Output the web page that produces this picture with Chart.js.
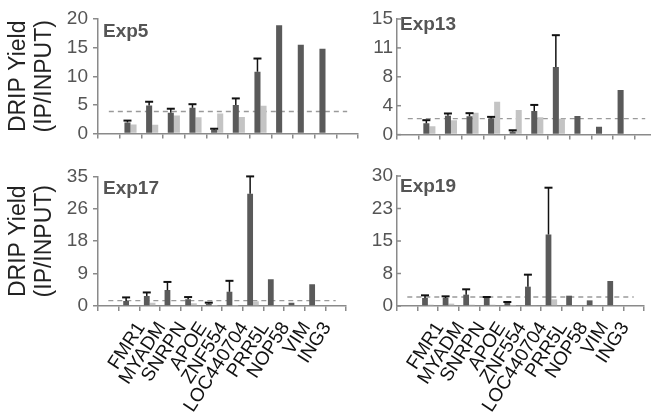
<!DOCTYPE html>
<html><head><meta charset="utf-8">
<script src="https://cdn.jsdelivr.net/npm/chart.js@4.4.1/dist/chart.umd.min.js"></script>
<style>
html,body{margin:0;padding:0;background:#fff;overflow:hidden;width:651px;height:417px;}
canvas{position:absolute;}
</style></head><body>
<canvas id="c1" width="362" height="150" style="left:0;top:0"></canvas>
<canvas id="c2" width="360" height="150" style="left:300px;top:0"></canvas>
<canvas id="c3" width="362" height="257" style="left:0;top:160px"></canvas>
<canvas id="c4" width="360" height="257" style="left:300px;top:160px"></canvas>
<script>
// ---- data ----
const genes = ['FMR1','MYADM','SNRPN','APOE','ZNF554','LOC440704','PRR5L','NOP58','VIM','ING3'];
const categories = ['', ...genes, ''];

const exp5Dark  = [1.95, 4.92, 3.65, 4.5, 0.69, 4.97, 10.8, 18.9, 15.5, 14.8];
const exp5Err   = [0.32, 0.64, 0.69, 0.63, 0.16, 1.17, 2.3, null, null, null];
const exp5Light = [1.59, 1.54, 3.17, 2.86, 3.49, 2.9, 4.87, null, null, null];
const exp5Threshold = 3.86;
const exp5Ticks = [0, 5, 10, 15, 20];

const exp13Dark  = [1.46, 2.46, 2.38, 2.1, 0.4, 3.06, 8.77, 2.42, 1.03, 5.8];
const exp13Err   = [0.41, 0.28, 0.4, 0.2, 0.16, 0.79, 4.13, null, null, null];
const exp13Light = [1.07, 1.87, 2.82, 4.25, 3.18, 2.26, 2.06, null, null, null];
const exp13Threshold = 2.06;
const exp13Ticks = [0, 4, 8, 11, 15];

const exp17Dark  = [1.34, 2.68, 4.29, 1.79, 0.63, 3.84, 30.3, 7.24, 0.9, 5.9];
const exp17Err   = [0.98, 0.98, 2.21, 0.62, 0.27, 2.96, 4.7, null, null, null];
const exp17Light = [0.2, 0.9, 0.2, 0.71, 0.05, 0.1, 1.25, null, null, null];
const exp17Threshold = 1.43;
const exp17Ticks = [0, 9, 18, 26, 35];

const exp19Dark  = [1.85, 1.85, 2.62, 2.0, 0.7, 4.46, 16.5, 2.38, 1.3, 5.77];
const exp19Err   = [0.61, 0.38, 1.23, 0.08, 0.22, 2.77, 10.8, null, null, null];
const exp19Light = [0.3, 0.55, 0.3, 0.3, 0.05, 0.2, 1.54, null, null, null];
const exp19Threshold = 2.08;
const exp19Ticks = [0, 8, 15, 23, 30];

// ---- helpers ----
const pad = arr => [null, ...arr, null];
const FONT = '"Liberation Sans", Arial, sans-serif';
const AXIS = '#8a8a8a';

const extras = {
  id: 'extras',
  beforeDatasetsDraw(chart, args, o) {
    const {ctx, scales: {x, y}} = chart;
    const yv = y.getPixelForValue(o.threshold);
    ctx.save();
    ctx.strokeStyle = '#9a9a9a'; ctx.lineWidth = 1.3; ctx.setLineDash([5, 4]);
    ctx.beginPath();
    ctx.moveTo(x.getPixelForValue(0), yv);
    ctx.lineTo(x.getPixelForValue(categories.length - 1), yv);
    ctx.stroke();
    ctx.restore();
  },
  afterDatasetsDraw(chart, args, o) {
    const {ctx, chartArea, scales: {y}} = chart;
    const meta = chart.getDatasetMeta(0);
    const vals = chart.data.datasets[0].data;
    ctx.save();
    // inward y tick marks (right-hand panels)
    if (o.innerTicks) {
      ctx.strokeStyle = AXIS; ctx.lineWidth = 1.5;
      y.ticks.forEach(t => {
        const py = y.getPixelForValue(t.value);
        ctx.beginPath(); ctx.moveTo(chartArea.left, py); ctx.lineTo(chartArea.left + 4, py); ctx.stroke();
      });
    }
    ctx.strokeStyle = '#111';
    meta.data.forEach((el, i) => {
      const e = o.errors[i];
      if (e == null || vals[i] == null) return;
      const top = y.getPixelForValue(vals[i] + e);
      ctx.lineWidth = 1.5;
      ctx.beginPath(); ctx.moveTo(el.x, el.y); ctx.lineTo(el.x, top); ctx.stroke();
      ctx.lineWidth = 2;
      ctx.beginPath(); ctx.moveTo(el.x - 4, top); ctx.lineTo(el.x + 4, top); ctx.stroke();
    });
    ctx.font = 'bold 19px ' + FONT;
    ctx.fillStyle = '#555';
    ctx.textBaseline = 'alphabetic';
    ctx.fillText(o.title, chartArea.left + o.tx, chartArea.top + o.ty);
    ctx.restore();
  }
};

function makePanel(id, p) {
  new Chart(document.getElementById(id), {
    type: 'bar',
    data: {
      labels: categories,
      datasets: [
        {data: pad(p.dark), backgroundColor: '#5a5a5a', categoryPercentage: 0.56, barPercentage: 1.0},
        {data: pad(p.light), backgroundColor: '#c4c4c4', categoryPercentage: 0.56, barPercentage: 1.0}
      ]
    },
    options: {
      responsive: false, animation: false, devicePixelRatio: 1,
      layout: {padding: {top: p.padTop, right: p.padRight, left: 0, bottom: 0}},
      plugins: {
        legend: {display: false}, tooltip: {enabled: false},
        extras: {threshold: p.threshold, errors: pad(p.err), title: p.title, tx: p.tx, ty: p.ty, innerTicks: p.innerTicks}
      },
      scales: {
        x: {
          offset: true,
          grid: {offset: true, drawOnChartArea: false, drawTicks: true, tickLength: 5, color: AXIS, lineWidth: 1.5},
          border: {display: true, color: AXIS, width: 1.5},
          ticks: {display: p.showLabels, autoSkip: false, minRotation: 57, maxRotation: 57, padding: 7, labelOffset: 12,
                  color: '#111', font: {family: FONT, size: 19}},
          afterFit: s => { s.height = p.xHeight; }
        },
        y: {
          min: 0, max: p.ticks[p.ticks.length - 1],
          ticks: {count: p.ticks.length, callback: (v, i) => String(p.ticks[i]), padding: p.tickPad,
                  color: '#555', font: {family: FONT, size: 19}},
          grid: {drawOnChartArea: false, drawTicks: p.tickLen > 0, tickLength: p.tickLen, color: AXIS, lineWidth: 1.5},
          border: {display: true, color: AXIS, width: 1.5},
          title: p.yTitle ? {display: true, text: ['DRIP Yield', '(IP/INPUT)'], color: '#222',
                  font: {family: FONT, size: 23, lineHeight: 1.15}, padding: {top: 5, bottom: 0}} : {display: false},
          afterFit: s => { s.width = p.yWidth; }
        }
      }
    },
    plugins: [extras]
  });
}

makePanel('c1', {dark: exp5Dark, light: exp5Light, err: exp5Err, threshold: exp5Threshold, ticks: exp5Ticks,
  title: 'Exp5', tx: 5, ty: 18, padTop: 19, padRight: 4, xHeight: 5, yWidth: 98, showLabels: false, yTitle: true,
  tickLen: 5, tickPad: 5, innerTicks: false});
makePanel('c2', {dark: exp13Dark, light: exp13Light, err: exp13Err, threshold: exp13Threshold, ticks: exp13Ticks,
  title: 'Exp13', tx: 3, ty: 11, padTop: 19, padRight: 4, xHeight: 5, yWidth: 97, showLabels: false, yTitle: false,
  tickLen: 0, tickPad: 4, innerTicks: true});
makePanel('c3', {dark: exp17Dark, light: exp17Light, err: exp17Err, threshold: exp17Threshold, ticks: exp17Ticks,
  title: 'Exp17', tx: 5, ty: 18, padTop: 16, padRight: 4, xHeight: 111, yWidth: 98, showLabels: true, yTitle: true,
  tickLen: 5, tickPad: 5, innerTicks: false});
makePanel('c4', {dark: exp19Dark, light: exp19Light, err: exp19Err, threshold: exp19Threshold, ticks: exp19Ticks,
  title: 'Exp19', tx: 3, ty: 16, padTop: 16, padRight: 4, xHeight: 111, yWidth: 97, showLabels: true, yTitle: false,
  tickLen: 0, tickPad: 4, innerTicks: true});
</script>
</body></html>
